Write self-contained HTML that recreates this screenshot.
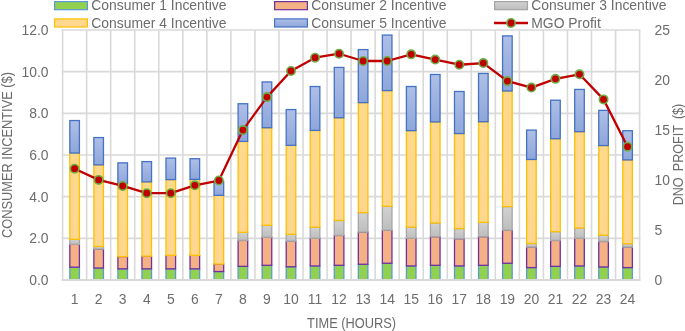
<!DOCTYPE html><html><head><meta charset="utf-8"><style>html,body{margin:0;padding:0;background:#fff;overflow:hidden}svg{display:block;will-change:transform}text{font-family:"Liberation Sans",sans-serif;fill:#6C6C6C}</style></head><body>
<svg width="685" height="331" viewBox="0 0 685 331">
<defs><linearGradient id="gb" x1="0" y1="0" x2="0" y2="1"><stop offset="0" stop-color="#AFBFE6"/><stop offset="1" stop-color="#8EA6DA"/></linearGradient><linearGradient id="gg" x1="0" y1="0" x2="0" y2="1"><stop offset="0" stop-color="#D2D2D2"/><stop offset="1" stop-color="#BDBDBD"/></linearGradient><linearGradient id="gy" x1="0" y1="0" x2="0" y2="1"><stop offset="0" stop-color="#FFD98E"/><stop offset="1" stop-color="#FFD690"/></linearGradient></defs>
<g stroke="#D9D9D9" stroke-width="1.6"><line x1="61.800000000000004" y1="280.00" x2="640.4" y2="280.00"/><line x1="61.800000000000004" y1="238.33" x2="640.4" y2="238.33"/><line x1="61.800000000000004" y1="196.67" x2="640.4" y2="196.67"/><line x1="61.800000000000004" y1="155.00" x2="640.4" y2="155.00"/><line x1="61.800000000000004" y1="113.33" x2="640.4" y2="113.33"/><line x1="61.800000000000004" y1="71.67" x2="640.4" y2="71.67"/><line x1="61.800000000000004" y1="30.00" x2="640.4" y2="30.00"/><line x1="62.60" y1="30.0" x2="62.60" y2="280.0"/><line x1="86.64" y1="30.0" x2="86.64" y2="280.0"/><line x1="110.68" y1="30.0" x2="110.68" y2="280.0"/><line x1="134.72" y1="30.0" x2="134.72" y2="280.0"/><line x1="158.77" y1="30.0" x2="158.77" y2="280.0"/><line x1="182.81" y1="30.0" x2="182.81" y2="280.0"/><line x1="206.85" y1="30.0" x2="206.85" y2="280.0"/><line x1="230.89" y1="30.0" x2="230.89" y2="280.0"/><line x1="254.93" y1="30.0" x2="254.93" y2="280.0"/><line x1="278.98" y1="30.0" x2="278.98" y2="280.0"/><line x1="303.02" y1="30.0" x2="303.02" y2="280.0"/><line x1="327.06" y1="30.0" x2="327.06" y2="280.0"/><line x1="351.10" y1="30.0" x2="351.10" y2="280.0"/><line x1="375.14" y1="30.0" x2="375.14" y2="280.0"/><line x1="399.18" y1="30.0" x2="399.18" y2="280.0"/><line x1="423.23" y1="30.0" x2="423.23" y2="280.0"/><line x1="447.27" y1="30.0" x2="447.27" y2="280.0"/><line x1="471.31" y1="30.0" x2="471.31" y2="280.0"/><line x1="495.35" y1="30.0" x2="495.35" y2="280.0"/><line x1="519.39" y1="30.0" x2="519.39" y2="280.0"/><line x1="543.43" y1="30.0" x2="543.43" y2="280.0"/><line x1="567.48" y1="30.0" x2="567.48" y2="280.0"/><line x1="591.52" y1="30.0" x2="591.52" y2="280.0"/><line x1="615.56" y1="30.0" x2="615.56" y2="280.0"/><line x1="639.60" y1="30.0" x2="639.60" y2="280.0"/></g>
<rect x="69.82" y="267.18" width="9.60" height="12.82" fill="#92D050" stroke="#5B9BD5" stroke-width="1.3"/><rect x="69.82" y="244.36" width="9.60" height="22.82" fill="#F4B183" stroke="#7030A0" stroke-width="1.3"/><rect x="69.82" y="239.38" width="9.60" height="4.98" fill="url(#gg)" stroke="#A5A5A5" stroke-width="1.3"/><rect x="69.82" y="153.04" width="9.60" height="86.33" fill="url(#gy)" stroke="#FFC000" stroke-width="1.3"/><rect x="69.82" y="120.55" width="9.60" height="32.49" fill="url(#gb)" stroke="#4472C4" stroke-width="1.3"/><rect x="93.86" y="268.01" width="9.60" height="11.99" fill="#92D050" stroke="#5B9BD5" stroke-width="1.3"/><rect x="93.86" y="249.13" width="9.60" height="18.88" fill="#F4B183" stroke="#7030A0" stroke-width="1.3"/><rect x="93.86" y="246.43" width="9.60" height="2.70" fill="url(#gg)" stroke="#A5A5A5" stroke-width="1.3"/><rect x="93.86" y="164.87" width="9.60" height="81.56" fill="url(#gy)" stroke="#FFC000" stroke-width="1.3"/><rect x="93.86" y="137.56" width="9.60" height="27.31" fill="url(#gb)" stroke="#4472C4" stroke-width="1.3"/><rect x="117.90" y="268.84" width="9.60" height="11.16" fill="#92D050" stroke="#5B9BD5" stroke-width="1.3"/><rect x="117.90" y="256.60" width="9.60" height="12.24" fill="#F4B183" stroke="#7030A0" stroke-width="1.3"/><rect x="117.90" y="183.34" width="9.60" height="73.26" fill="url(#gy)" stroke="#FFC000" stroke-width="1.3"/><rect x="117.90" y="162.88" width="9.60" height="20.46" fill="url(#gb)" stroke="#4472C4" stroke-width="1.3"/><rect x="141.95" y="268.84" width="9.60" height="11.16" fill="#92D050" stroke="#5B9BD5" stroke-width="1.3"/><rect x="141.95" y="256.18" width="9.60" height="12.66" fill="#F4B183" stroke="#7030A0" stroke-width="1.3"/><rect x="141.95" y="181.88" width="9.60" height="74.30" fill="url(#gy)" stroke="#FFC000" stroke-width="1.3"/><rect x="141.95" y="161.63" width="9.60" height="20.25" fill="url(#gb)" stroke="#4472C4" stroke-width="1.3"/><rect x="165.99" y="268.84" width="9.60" height="11.16" fill="#92D050" stroke="#5B9BD5" stroke-width="1.3"/><rect x="165.99" y="255.35" width="9.60" height="13.49" fill="#F4B183" stroke="#7030A0" stroke-width="1.3"/><rect x="165.99" y="179.60" width="9.60" height="75.75" fill="url(#gy)" stroke="#FFC000" stroke-width="1.3"/><rect x="165.99" y="158.10" width="9.60" height="21.50" fill="url(#gb)" stroke="#4472C4" stroke-width="1.3"/><rect x="190.03" y="268.84" width="9.60" height="11.16" fill="#92D050" stroke="#5B9BD5" stroke-width="1.3"/><rect x="190.03" y="255.35" width="9.60" height="13.49" fill="#F4B183" stroke="#7030A0" stroke-width="1.3"/><rect x="190.03" y="179.39" width="9.60" height="75.96" fill="url(#gy)" stroke="#FFC000" stroke-width="1.3"/><rect x="190.03" y="158.73" width="9.60" height="20.66" fill="url(#gb)" stroke="#4472C4" stroke-width="1.3"/><rect x="214.07" y="271.54" width="9.60" height="8.46" fill="#92D050" stroke="#5B9BD5" stroke-width="1.3"/><rect x="214.07" y="264.07" width="9.60" height="7.47" fill="#F4B183" stroke="#7030A0" stroke-width="1.3"/><rect x="214.07" y="195.37" width="9.60" height="68.70" fill="url(#gy)" stroke="#FFC000" stroke-width="1.3"/><rect x="214.07" y="181.34" width="9.60" height="14.03" fill="url(#gb)" stroke="#4472C4" stroke-width="1.3"/><rect x="238.11" y="266.35" width="9.60" height="13.65" fill="#92D050" stroke="#5B9BD5" stroke-width="1.3"/><rect x="238.11" y="240.41" width="9.60" height="25.94" fill="#F4B183" stroke="#7030A0" stroke-width="1.3"/><rect x="238.11" y="232.32" width="9.60" height="8.09" fill="url(#gg)" stroke="#A5A5A5" stroke-width="1.3"/><rect x="238.11" y="141.42" width="9.60" height="90.90" fill="url(#gy)" stroke="#FFC000" stroke-width="1.3"/><rect x="238.11" y="103.74" width="9.60" height="37.68" fill="url(#gb)" stroke="#4472C4" stroke-width="1.3"/><rect x="262.15" y="265.31" width="9.60" height="14.69" fill="#92D050" stroke="#5B9BD5" stroke-width="1.3"/><rect x="262.15" y="237.30" width="9.60" height="28.01" fill="#F4B183" stroke="#7030A0" stroke-width="1.3"/><rect x="262.15" y="225.27" width="9.60" height="12.03" fill="url(#gg)" stroke="#A5A5A5" stroke-width="1.3"/><rect x="262.15" y="127.73" width="9.60" height="97.54" fill="url(#gy)" stroke="#FFC000" stroke-width="1.3"/><rect x="262.15" y="81.95" width="9.60" height="45.77" fill="url(#gb)" stroke="#4472C4" stroke-width="1.3"/><rect x="286.20" y="266.76" width="9.60" height="13.24" fill="#92D050" stroke="#5B9BD5" stroke-width="1.3"/><rect x="286.20" y="241.24" width="9.60" height="25.52" fill="#F4B183" stroke="#7030A0" stroke-width="1.3"/><rect x="286.20" y="234.40" width="9.60" height="6.85" fill="url(#gg)" stroke="#A5A5A5" stroke-width="1.3"/><rect x="286.20" y="145.36" width="9.60" height="89.03" fill="url(#gy)" stroke="#FFC000" stroke-width="1.3"/><rect x="286.20" y="109.55" width="9.60" height="35.81" fill="url(#gb)" stroke="#4472C4" stroke-width="1.3"/><rect x="310.24" y="265.94" width="9.60" height="14.06" fill="#92D050" stroke="#5B9BD5" stroke-width="1.3"/><rect x="310.24" y="238.34" width="9.60" height="27.60" fill="#F4B183" stroke="#7030A0" stroke-width="1.3"/><rect x="310.24" y="227.13" width="9.60" height="11.21" fill="url(#gg)" stroke="#A5A5A5" stroke-width="1.3"/><rect x="310.24" y="130.42" width="9.60" height="96.71" fill="url(#gy)" stroke="#FFC000" stroke-width="1.3"/><rect x="310.24" y="86.52" width="9.60" height="43.91" fill="url(#gb)" stroke="#4472C4" stroke-width="1.3"/><rect x="334.28" y="265.31" width="9.60" height="14.69" fill="#92D050" stroke="#5B9BD5" stroke-width="1.3"/><rect x="334.28" y="235.43" width="9.60" height="29.88" fill="#F4B183" stroke="#7030A0" stroke-width="1.3"/><rect x="334.28" y="220.49" width="9.60" height="14.94" fill="url(#gg)" stroke="#A5A5A5" stroke-width="1.3"/><rect x="334.28" y="117.77" width="9.60" height="102.73" fill="url(#gy)" stroke="#FFC000" stroke-width="1.3"/><rect x="334.28" y="67.43" width="9.60" height="50.34" fill="url(#gb)" stroke="#4472C4" stroke-width="1.3"/><rect x="358.32" y="264.28" width="9.60" height="15.72" fill="#92D050" stroke="#5B9BD5" stroke-width="1.3"/><rect x="358.32" y="232.11" width="9.60" height="32.16" fill="#F4B183" stroke="#7030A0" stroke-width="1.3"/><rect x="358.32" y="212.61" width="9.60" height="19.50" fill="url(#gg)" stroke="#A5A5A5" stroke-width="1.3"/><rect x="358.32" y="102.62" width="9.60" height="109.99" fill="url(#gy)" stroke="#FFC000" stroke-width="1.3"/><rect x="358.32" y="49.58" width="9.60" height="53.04" fill="url(#gb)" stroke="#4472C4" stroke-width="1.3"/><rect x="382.36" y="263.24" width="9.60" height="16.76" fill="#92D050" stroke="#5B9BD5" stroke-width="1.3"/><rect x="382.36" y="230.25" width="9.60" height="32.99" fill="#F4B183" stroke="#7030A0" stroke-width="1.3"/><rect x="382.36" y="206.18" width="9.60" height="24.07" fill="url(#gg)" stroke="#A5A5A5" stroke-width="1.3"/><rect x="382.36" y="90.58" width="9.60" height="115.59" fill="url(#gy)" stroke="#FFC000" stroke-width="1.3"/><rect x="382.36" y="35.06" width="9.60" height="55.52" fill="url(#gb)" stroke="#4472C4" stroke-width="1.3"/><rect x="406.40" y="265.94" width="9.60" height="14.06" fill="#92D050" stroke="#5B9BD5" stroke-width="1.3"/><rect x="406.40" y="238.34" width="9.60" height="27.60" fill="#F4B183" stroke="#7030A0" stroke-width="1.3"/><rect x="406.40" y="227.13" width="9.60" height="11.21" fill="url(#gg)" stroke="#A5A5A5" stroke-width="1.3"/><rect x="406.40" y="130.63" width="9.60" height="96.50" fill="url(#gy)" stroke="#FFC000" stroke-width="1.3"/><rect x="406.40" y="86.52" width="9.60" height="44.11" fill="url(#gb)" stroke="#4472C4" stroke-width="1.3"/><rect x="430.45" y="265.31" width="9.60" height="14.69" fill="#92D050" stroke="#5B9BD5" stroke-width="1.3"/><rect x="430.45" y="236.68" width="9.60" height="28.63" fill="#F4B183" stroke="#7030A0" stroke-width="1.3"/><rect x="430.45" y="222.98" width="9.60" height="13.69" fill="url(#gg)" stroke="#A5A5A5" stroke-width="1.3"/><rect x="430.45" y="121.92" width="9.60" height="101.07" fill="url(#gy)" stroke="#FFC000" stroke-width="1.3"/><rect x="430.45" y="74.48" width="9.60" height="47.43" fill="url(#gb)" stroke="#4472C4" stroke-width="1.3"/><rect x="454.49" y="265.94" width="9.60" height="14.06" fill="#92D050" stroke="#5B9BD5" stroke-width="1.3"/><rect x="454.49" y="238.75" width="9.60" height="27.18" fill="#F4B183" stroke="#7030A0" stroke-width="1.3"/><rect x="454.49" y="228.59" width="9.60" height="10.17" fill="url(#gg)" stroke="#A5A5A5" stroke-width="1.3"/><rect x="454.49" y="133.54" width="9.60" height="95.05" fill="url(#gy)" stroke="#FFC000" stroke-width="1.3"/><rect x="454.49" y="91.50" width="9.60" height="42.04" fill="url(#gb)" stroke="#4472C4" stroke-width="1.3"/><rect x="478.53" y="265.31" width="9.60" height="14.69" fill="#92D050" stroke="#5B9BD5" stroke-width="1.3"/><rect x="478.53" y="236.68" width="9.60" height="28.63" fill="#F4B183" stroke="#7030A0" stroke-width="1.3"/><rect x="478.53" y="222.36" width="9.60" height="14.32" fill="url(#gg)" stroke="#A5A5A5" stroke-width="1.3"/><rect x="478.53" y="121.71" width="9.60" height="100.65" fill="url(#gy)" stroke="#FFC000" stroke-width="1.3"/><rect x="478.53" y="73.45" width="9.60" height="48.26" fill="url(#gb)" stroke="#4472C4" stroke-width="1.3"/><rect x="502.57" y="263.24" width="9.60" height="16.76" fill="#92D050" stroke="#5B9BD5" stroke-width="1.3"/><rect x="502.57" y="230.25" width="9.60" height="32.99" fill="#F4B183" stroke="#7030A0" stroke-width="1.3"/><rect x="502.57" y="206.59" width="9.60" height="23.65" fill="url(#gg)" stroke="#A5A5A5" stroke-width="1.3"/><rect x="502.57" y="91.00" width="9.60" height="115.59" fill="url(#gy)" stroke="#FFC000" stroke-width="1.3"/><rect x="502.57" y="35.89" width="9.60" height="55.11" fill="url(#gb)" stroke="#4472C4" stroke-width="1.3"/><rect x="526.61" y="267.60" width="9.60" height="12.40" fill="#92D050" stroke="#5B9BD5" stroke-width="1.3"/><rect x="526.61" y="247.05" width="9.60" height="20.54" fill="#F4B183" stroke="#7030A0" stroke-width="1.3"/><rect x="526.61" y="243.53" width="9.60" height="3.53" fill="url(#gg)" stroke="#A5A5A5" stroke-width="1.3"/><rect x="526.61" y="159.47" width="9.60" height="84.05" fill="url(#gy)" stroke="#FFC000" stroke-width="1.3"/><rect x="526.61" y="130.09" width="9.60" height="29.38" fill="url(#gb)" stroke="#4472C4" stroke-width="1.3"/><rect x="550.65" y="266.35" width="9.60" height="13.65" fill="#92D050" stroke="#5B9BD5" stroke-width="1.3"/><rect x="550.65" y="240.41" width="9.60" height="25.94" fill="#F4B183" stroke="#7030A0" stroke-width="1.3"/><rect x="550.65" y="231.70" width="9.60" height="8.72" fill="url(#gg)" stroke="#A5A5A5" stroke-width="1.3"/><rect x="550.65" y="138.72" width="9.60" height="92.97" fill="url(#gy)" stroke="#FFC000" stroke-width="1.3"/><rect x="550.65" y="100.21" width="9.60" height="38.51" fill="url(#gb)" stroke="#4472C4" stroke-width="1.3"/><rect x="574.70" y="265.94" width="9.60" height="14.06" fill="#92D050" stroke="#5B9BD5" stroke-width="1.3"/><rect x="574.70" y="238.34" width="9.60" height="27.60" fill="#F4B183" stroke="#7030A0" stroke-width="1.3"/><rect x="574.70" y="227.96" width="9.60" height="10.38" fill="url(#gg)" stroke="#A5A5A5" stroke-width="1.3"/><rect x="574.70" y="131.67" width="9.60" height="96.29" fill="url(#gy)" stroke="#FFC000" stroke-width="1.3"/><rect x="574.70" y="89.42" width="9.60" height="42.25" fill="url(#gb)" stroke="#4472C4" stroke-width="1.3"/><rect x="598.74" y="266.97" width="9.60" height="13.03" fill="#92D050" stroke="#5B9BD5" stroke-width="1.3"/><rect x="598.74" y="241.45" width="9.60" height="25.52" fill="#F4B183" stroke="#7030A0" stroke-width="1.3"/><rect x="598.74" y="235.23" width="9.60" height="6.22" fill="url(#gg)" stroke="#A5A5A5" stroke-width="1.3"/><rect x="598.74" y="145.57" width="9.60" height="89.66" fill="url(#gy)" stroke="#FFC000" stroke-width="1.3"/><rect x="598.74" y="110.38" width="9.60" height="35.19" fill="url(#gb)" stroke="#4472C4" stroke-width="1.3"/><rect x="622.78" y="267.60" width="9.60" height="12.40" fill="#92D050" stroke="#5B9BD5" stroke-width="1.3"/><rect x="622.78" y="247.05" width="9.60" height="20.54" fill="#F4B183" stroke="#7030A0" stroke-width="1.3"/><rect x="622.78" y="243.73" width="9.60" height="3.32" fill="url(#gg)" stroke="#A5A5A5" stroke-width="1.3"/><rect x="622.78" y="159.89" width="9.60" height="83.84" fill="url(#gy)" stroke="#FFC000" stroke-width="1.3"/><rect x="622.78" y="130.72" width="9.60" height="29.17" fill="url(#gb)" stroke="#4472C4" stroke-width="1.3"/>
<line x1="61.800000000000004" y1="280.0" x2="640.4" y2="280.0" stroke="#D9D9D9" stroke-width="1.8"/>
<path d="M74.62,168.69 L98.66,179.89 L122.70,185.91 L146.75,193.17 L170.79,193.17 L194.83,185.29 L218.87,180.52 L242.91,130.09 L266.95,97.10 L291.00,70.96 L315.04,57.68 L339.08,53.73 L363.12,61.00 L387.16,61.00 L411.20,54.36 L435.25,59.54 L459.29,64.73 L483.33,63.07 L507.37,81.12 L531.41,87.56 L555.45,78.84 L579.50,74.28 L603.54,99.38 L627.58,146.69" fill="none" stroke="#C00000" stroke-width="2.3" stroke-linejoin="round"/>
<circle cx="74.62" cy="168.69" r="4.2" fill="#C00000" stroke="#70AD47" stroke-width="1.6"/><circle cx="98.66" cy="179.89" r="4.2" fill="#C00000" stroke="#70AD47" stroke-width="1.6"/><circle cx="122.70" cy="185.91" r="4.2" fill="#C00000" stroke="#70AD47" stroke-width="1.6"/><circle cx="146.75" cy="193.17" r="4.2" fill="#C00000" stroke="#70AD47" stroke-width="1.6"/><circle cx="170.79" cy="193.17" r="4.2" fill="#C00000" stroke="#70AD47" stroke-width="1.6"/><circle cx="194.83" cy="185.29" r="4.2" fill="#C00000" stroke="#70AD47" stroke-width="1.6"/><circle cx="218.87" cy="180.52" r="4.2" fill="#C00000" stroke="#70AD47" stroke-width="1.6"/><circle cx="242.91" cy="130.09" r="4.2" fill="#C00000" stroke="#70AD47" stroke-width="1.6"/><circle cx="266.95" cy="97.10" r="4.2" fill="#C00000" stroke="#70AD47" stroke-width="1.6"/><circle cx="291.00" cy="70.96" r="4.2" fill="#C00000" stroke="#70AD47" stroke-width="1.6"/><circle cx="315.04" cy="57.68" r="4.2" fill="#C00000" stroke="#70AD47" stroke-width="1.6"/><circle cx="339.08" cy="53.73" r="4.2" fill="#C00000" stroke="#70AD47" stroke-width="1.6"/><circle cx="363.12" cy="61.00" r="4.2" fill="#C00000" stroke="#70AD47" stroke-width="1.6"/><circle cx="387.16" cy="61.00" r="4.2" fill="#C00000" stroke="#70AD47" stroke-width="1.6"/><circle cx="411.20" cy="54.36" r="4.2" fill="#C00000" stroke="#70AD47" stroke-width="1.6"/><circle cx="435.25" cy="59.54" r="4.2" fill="#C00000" stroke="#70AD47" stroke-width="1.6"/><circle cx="459.29" cy="64.73" r="4.2" fill="#C00000" stroke="#70AD47" stroke-width="1.6"/><circle cx="483.33" cy="63.07" r="4.2" fill="#C00000" stroke="#70AD47" stroke-width="1.6"/><circle cx="507.37" cy="81.12" r="4.2" fill="#C00000" stroke="#70AD47" stroke-width="1.6"/><circle cx="531.41" cy="87.56" r="4.2" fill="#C00000" stroke="#70AD47" stroke-width="1.6"/><circle cx="555.45" cy="78.84" r="4.2" fill="#C00000" stroke="#70AD47" stroke-width="1.6"/><circle cx="579.50" cy="74.28" r="4.2" fill="#C00000" stroke="#70AD47" stroke-width="1.6"/><circle cx="603.54" cy="99.38" r="4.2" fill="#C00000" stroke="#70AD47" stroke-width="1.6"/><circle cx="627.58" cy="146.69" r="4.2" fill="#C00000" stroke="#70AD47" stroke-width="1.6"/>
<text x="48.5" y="284.90" font-size="13.9" text-anchor="end">0.0</text>
<text x="48.5" y="243.23" font-size="13.9" text-anchor="end">2.0</text>
<text x="48.5" y="201.57" font-size="13.9" text-anchor="end">4.0</text>
<text x="48.5" y="159.90" font-size="13.9" text-anchor="end">6.0</text>
<text x="48.5" y="118.23" font-size="13.9" text-anchor="end">8.0</text>
<text x="48.5" y="76.57" font-size="13.9" text-anchor="end">10.0</text>
<text x="48.5" y="34.90" font-size="13.9" text-anchor="end">12.0</text>
<text x="654.5" y="284.90" font-size="13.9">0</text>
<text x="654.5" y="234.90" font-size="13.9">5</text>
<text x="654.5" y="184.90" font-size="13.9">10</text>
<text x="654.5" y="134.90" font-size="13.9">15</text>
<text x="654.5" y="84.90" font-size="13.9">20</text>
<text x="654.5" y="34.90" font-size="13.9">25</text>
<text x="74.62" y="304.2" font-size="13.9" text-anchor="middle">1</text>
<text x="98.66" y="304.2" font-size="13.9" text-anchor="middle">2</text>
<text x="122.70" y="304.2" font-size="13.9" text-anchor="middle">3</text>
<text x="146.75" y="304.2" font-size="13.9" text-anchor="middle">4</text>
<text x="170.79" y="304.2" font-size="13.9" text-anchor="middle">5</text>
<text x="194.83" y="304.2" font-size="13.9" text-anchor="middle">6</text>
<text x="218.87" y="304.2" font-size="13.9" text-anchor="middle">7</text>
<text x="242.91" y="304.2" font-size="13.9" text-anchor="middle">8</text>
<text x="266.95" y="304.2" font-size="13.9" text-anchor="middle">9</text>
<text x="291.00" y="304.2" font-size="13.9" text-anchor="middle">10</text>
<text x="315.04" y="304.2" font-size="13.9" text-anchor="middle">11</text>
<text x="339.08" y="304.2" font-size="13.9" text-anchor="middle">12</text>
<text x="363.12" y="304.2" font-size="13.9" text-anchor="middle">13</text>
<text x="387.16" y="304.2" font-size="13.9" text-anchor="middle">14</text>
<text x="411.20" y="304.2" font-size="13.9" text-anchor="middle">15</text>
<text x="435.25" y="304.2" font-size="13.9" text-anchor="middle">16</text>
<text x="459.29" y="304.2" font-size="13.9" text-anchor="middle">17</text>
<text x="483.33" y="304.2" font-size="13.9" text-anchor="middle">18</text>
<text x="507.37" y="304.2" font-size="13.9" text-anchor="middle">19</text>
<text x="531.41" y="304.2" font-size="13.9" text-anchor="middle">20</text>
<text x="555.45" y="304.2" font-size="13.9" text-anchor="middle">21</text>
<text x="579.50" y="304.2" font-size="13.9" text-anchor="middle">22</text>
<text x="603.54" y="304.2" font-size="13.9" text-anchor="middle">23</text>
<text x="627.58" y="304.2" font-size="13.9" text-anchor="middle">24</text>
<text transform="translate(351.6,328.3) scale(0.93,1)" font-size="13.8" text-anchor="middle">TIME (HOURS)</text>
<text transform="translate(11.6,155) rotate(-90) scale(0.93,1)" font-size="13.8" text-anchor="middle">CONSUMER INCENTIVE ($)</text>
<text transform="translate(683,154.5) rotate(-90) scale(0.9,1)" font-size="14" word-spacing="3" text-anchor="middle">DNO PROFIT ($)</text>
<rect x="54.6" y="1.6" width="32.8" height="8.1" fill="#92D050" stroke="#5B9BD5" stroke-width="1.2"/>
<text x="91.3" y="10.20" font-size="13.9">Consumer 1 Incentive</text>
<rect x="274.6" y="1.6" width="32.8" height="8.1" fill="#F4B183" stroke="#7030A0" stroke-width="1.2"/>
<text x="311.3" y="10.20" font-size="13.9">Consumer 2 Incentive</text>
<rect x="494.6" y="1.6" width="32.8" height="8.1" fill="url(#gg)" stroke="#A5A5A5" stroke-width="1.2"/>
<text x="531.3" y="10.20" font-size="13.9">Consumer 3 Incentive</text>
<rect x="54.6" y="18.900000000000002" width="32.8" height="8.1" fill="url(#gy)" stroke="#FFC000" stroke-width="1.2"/>
<text x="91.3" y="27.50" font-size="13.9">Consumer 4 Incentive</text>
<rect x="274.6" y="18.900000000000002" width="32.8" height="8.1" fill="url(#gb)" stroke="#4472C4" stroke-width="1.2"/>
<text x="311.3" y="27.50" font-size="13.9">Consumer 5 Incentive</text>
<line x1="494" y1="23.0" x2="528" y2="23.0" stroke="#C00000" stroke-width="2.3"/>
<circle cx="511" cy="23.0" r="4.2" fill="#C00000" stroke="#70AD47" stroke-width="1.6"/>
<text x="531.3" y="27.5" font-size="13.9">MGO Profit</text>
</svg></body></html>
